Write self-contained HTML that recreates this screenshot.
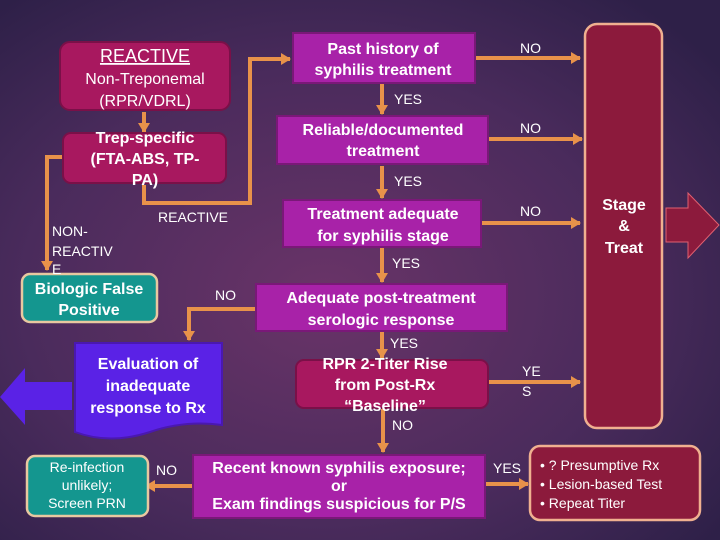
<html><head><style>
body{margin:0;width:720px;height:540px;overflow:hidden;background:#3c2550}
svg{display:block}
text{font-family:"Liberation Sans",sans-serif;fill:#fff}
.b{font-weight:bold}
</style></head><body>
<svg width="720" height="540" viewBox="0 0 720 540">
<defs>
<radialGradient id="bg" cx="0.45" cy="0.55" r="0.7">
<stop offset="0" stop-color="#6a3468"/><stop offset="0.6" stop-color="#4a2b5c"/><stop offset="1" stop-color="#2e2048"/>
</radialGradient>
<marker id="a" markerWidth="10" markerHeight="12" refX="9" refY="6" orient="auto" markerUnits="userSpaceOnUse"><path d="M0,0 L10,6 L0,12 z" fill="#e8924a"/></marker>
</defs>
<rect width="720" height="540" fill="url(#bg)"/>
<g stroke="#e8924a" stroke-width="4" fill="none" marker-end="url(#a)">
<path d="M144,112 V132"/>
<path d="M62,157 H47 V270"/>
<path d="M144,185 V203 H250 V59 H290"/>
<path d="M475,58 H580"/>
<path d="M488,139 H582"/>
<path d="M481,223 H580"/>
<path d="M382,84 V114"/>
<path d="M382,166 V198"/>
<path d="M382,248 V282"/>
<path d="M382,332 V358"/>
<path d="M256,309 H189 V340"/>
<path d="M488,382 H580"/>
<path d="M383,408 V452"/>
<path d="M485,484 H528"/>
<path d="M193,486 H146"/>
</g>
<rect x="60" y="42" width="170" height="68" rx="10" fill="#a8185f" stroke="#7a1048" stroke-width="2"/>
<rect x="63" y="133" width="163" height="50" rx="8" fill="#a8185f" stroke="#7a1048" stroke-width="2"/>
<rect x="293" y="33" width="182" height="50" fill="#a822a8" stroke="#7a1878" stroke-width="2"/>
<rect x="277" y="116" width="211" height="48" fill="#a822a8" stroke="#7a1878" stroke-width="2"/>
<rect x="283" y="200" width="198" height="47" fill="#a822a8" stroke="#7a1878" stroke-width="2"/>
<rect x="256" y="284" width="251" height="47" fill="#a822a8" stroke="#7a1878" stroke-width="2"/>
<rect x="296" y="360" width="192" height="48" rx="8" fill="#a8185f" stroke="#7a1048" stroke-width="2"/>
<rect x="193" y="455" width="292" height="63" fill="#a822a8" stroke="#7a1878" stroke-width="2"/>
<rect x="585" y="24" width="77" height="404" rx="12" fill="#8c1a3c" stroke="#f0b090" stroke-width="2.5"/>
<path d="M666,208 H688 V193 L719,225 L688,258 V242 H666 z" fill="#8c1a3c" stroke="#e06070" stroke-width="1"/>
<rect x="530" y="446" width="170" height="74" rx="10" fill="#8c1a3c" stroke="#f0b090" stroke-width="2.5"/>
<rect x="22" y="274" width="135" height="48" rx="8" fill="#14968f" stroke="#e8c8a0" stroke-width="2.5"/>
<rect x="27" y="456" width="121" height="60" rx="8" fill="#14968f" stroke="#e8c8a0" stroke-width="2.5"/>
<path d="M75,343 H222 V425 Q185,420 150,432 Q110,445 75,432 z" fill="#5a22e6" stroke="#4a18b0" stroke-width="2"/>
<path d="M72,382 H25 V368 L0,397 L25,425 V410 H72 z" fill="#5a22e6"/>
<g text-anchor="middle" font-size="16">
<text x="145" y="62" font-size="18" text-decoration="underline">REACTIVE</text>
<text x="145" y="84">Non-Treponemal</text>
<text x="145" y="106">(RPR/VDRL)</text>
<g class="b">
<text x="145" y="143">Trep-specific</text>
<text x="145" y="164">(FTA-ABS, TP-</text>
<text x="145" y="185">PA)</text>
<text x="383" y="54">Past history of</text>
<text x="383" y="75">syphilis treatment</text>
<text x="383" y="135">Reliable/documented</text>
<text x="383" y="156">treatment</text>
<text x="383" y="219">Treatment adequate</text>
<text x="383" y="241">for syphilis stage</text>
<text x="381" y="303">Adequate post-treatment</text>
<text x="381" y="325">serologic response</text>
<text x="385" y="369">RPR 2-Titer Rise</text>
<text x="385" y="390">from Post-Rx</text>
<text x="385" y="411">“Baseline”</text>
<text x="339" y="473">Recent known syphilis exposure;</text>
<text x="339" y="491">or</text>
<text x="339" y="509">Exam findings suspicious for P/S</text>
<text x="624" y="210">Stage</text>
<text x="624" y="231">&amp;</text>
<text x="624" y="253">Treat</text>
<text x="89" y="294">Biologic False</text>
<text x="89" y="315">Positive</text>
<text x="148" y="369">Evaluation of</text>
<text x="148" y="391">inadequate</text>
<text x="148" y="413">response to Rx</text>
</g>
<text x="87" y="472" font-size="14">Re-infection</text>
<text x="87" y="490" font-size="14">unlikely;</text>
<text x="87" y="508" font-size="14">Screen PRN</text>
</g>
<g font-size="14">
<text x="158" y="222">REACTIVE</text>
<text x="52" y="236">NON-</text>
<text x="52" y="256">REACTIV</text>
<text x="52" y="274">E</text>
<text x="520" y="53">NO</text>
<text x="520" y="133">NO</text>
<text x="520" y="216">NO</text>
<text x="394" y="104">YES</text>
<text x="394" y="186">YES</text>
<text x="392" y="268">YES</text>
<text x="390" y="348">YES</text>
<text x="392" y="430">NO</text>
<text x="215" y="300">NO</text>
<text x="522" y="376">YE</text>
<text x="522" y="396">S</text>
<text x="493" y="473">YES</text>
<text x="156" y="475">NO</text>
<text x="540" y="470">• ? Presumptive Rx</text>
<text x="540" y="489">• Lesion-based Test</text>
<text x="540" y="508">• Repeat Titer</text>
</g>
</svg>
</body></html>
